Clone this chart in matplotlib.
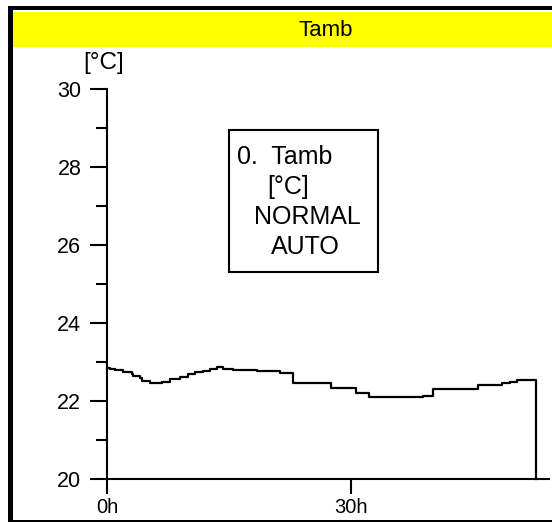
import matplotlib
matplotlib.use("Agg")
import matplotlib.pyplot as plt
from matplotlib.patches import Rectangle
from matplotlib.ticker import MultipleLocator

plt.rcParams['font.family'] = ['Liberation Sans', 'DejaVu Sans']

# Data (hours, °C), step-wise signal
times = [0, 0.4, 1.0, 2.0, 3.1, 3.2, 4.1, 4.3, 5.3, 6.8, 7.7, 9.0, 10.0, 10.8,
         11.8, 12.7, 13.5, 14.3, 15.5, 18.4, 21.3, 22.9, 27.5, 30.6, 32.2,
         38.9, 40.1, 45.6, 48.6, 49.6, 50.4]
values = [22.84, 22.83, 22.79, 22.75, 22.69, 22.65, 22.58, 22.52, 22.45, 22.50,
          22.56, 22.62, 22.68, 22.74, 22.78, 22.82, 22.88, 22.82, 22.79, 22.77,
          22.71, 22.47, 22.34, 22.21, 22.09, 22.14, 22.30, 22.41, 22.45, 22.50,
          22.55]
t_end = 52.7
x_ticks = [0, 30]
x_labels = ["0h", "30h"]
y_min, y_max = 20, 30
title = "Tamb"
unit = "[°C]"

W, H = 552, 522
fig = plt.figure(figsize=(W / 100, H / 100), dpi=100)

def fx(px):
    return px / W

def fy(py):
    return 1 - py / H

# frame decorations
fig.patches.append(Rectangle((fx(8), fy(10)), fx(552 - 8), 4 / H, transform=fig.transFigure,
                             facecolor='black', edgecolor='none'))
fig.patches.append(Rectangle((fx(8), fy(520)), fx(5), (520 - 6) / H, transform=fig.transFigure,
                             facecolor='black', edgecolor='none'))
fig.patches.append(Rectangle((fx(13), fy(47)), fx(552 - 13), 35 / H, transform=fig.transFigure,
                             facecolor='#ffff00', edgecolor='none'))
fig.patches.append(Rectangle((fx(8), fy(522)), fx(552 - 8), 2 / H, transform=fig.transFigure,
                             facecolor='black', edgecolor='none'))
fig.text(fx(326), fy(30), title, ha='center', va='center', fontsize=16)

# axes
x_right = (549 - 107) / 8.133
ax = fig.add_axes([fx(107), fy(479), fx(549 - 107), (479 - 89) / H])
ax.set_xlim(0, x_right)
ax.set_ylim(y_min, y_max)
ax.patch.set_alpha(0)
for s in ['top', 'right']:
    ax.spines[s].set_visible(False)
for s in ['left', 'bottom']:
    ax.spines[s].set_linewidth(1.5)

xs = times + [t_end, t_end]
ys = values + [values[-1], y_min]
ax.plot(xs, ys, drawstyle='steps-post', color='black', lw=1.6, clip_on=False)

ax.set_xticks(x_ticks)
ax.set_xticklabels(x_labels)
ax.yaxis.set_major_locator(MultipleLocator(2))
ax.yaxis.set_minor_locator(MultipleLocator(1))
ax.tick_params(axis='y', which='major', length=12.5, width=1.5, labelsize=15.5, pad=6)
ax.tick_params(axis='y', which='minor', length=8, width=1.5)
ax.tick_params(axis='x', which='major', length=10.5, width=1.5, labelsize=14.5, pad=3)

fig.text(fx(104), fy(63), unit, ha='center', va='center', fontsize=17.5)

# info box
fig.patches.append(Rectangle((fx(229), fy(272)), fx(378 - 229), (272 - 130) / H,
                             transform=fig.transFigure, facecolor='white',
                             edgecolor='black', lw=1.5))
fig.text(fx(237), fy(157), "0.  Tamb", ha='left', va='center', fontsize=18)
fig.text(fx(288), fy(187), "[°C]", ha='center', va='center', fontsize=18)
fig.text(fx(307), fy(217), "NORMAL", ha='center', va='center', fontsize=18)
fig.text(fx(305), fy(247), "AUTO", ha='center', va='center', fontsize=18)

fig.savefig("out.png", dpi=100)
